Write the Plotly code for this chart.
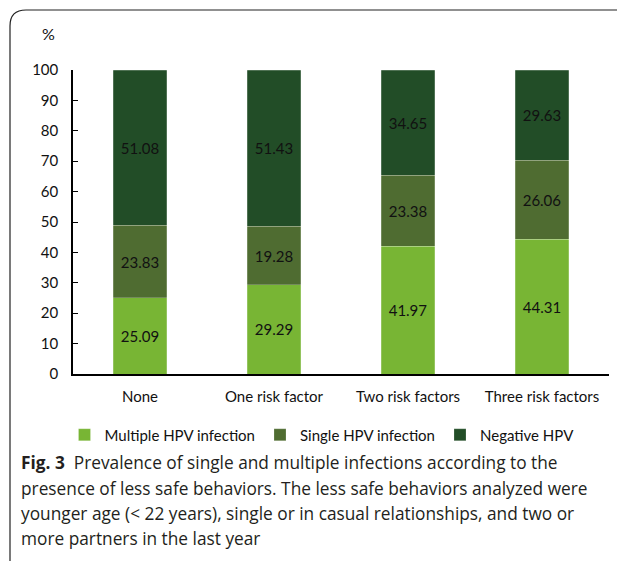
import plotly.graph_objects as go

categories = ["None", "One risk factor", "Two risk factors", "Three risk factors"]
multiple = [25.09, 29.29, 41.97, 44.31]
single = [23.83, 19.28, 23.38, 26.06]
negative = [51.08, 51.43, 34.65, 29.63]
series_names = ["Multiple HPV infection", "Single HPV infection", "Negative HPV"]
colors = ["#78B534", "#4F6C31", "#224D27"]
y_ticks = [0, 10, 20, 30, 40, 50, 60, 70, 80, 90, 100]

FONT = "Lato"
W, H = 625, 561
OFF = 8  # page body margin
# target screen positions of plot area
SX0, SX1, SY0, SY1 = 73, 609, 70, 374
L = SX0 - OFF
R = W - (SX1 - OFF)
T = SY0 - OFF
B = H - (SY1 - OFF)
pw = W - L - R
ph = H - T - B

def px(x):
    return (x - SX0) / pw

def py(y):
    return (SY1 - y) / ph

fig = go.Figure()
for name, vals, col in zip(series_names, [multiple, single, negative], colors):
    fig.add_trace(go.Bar(
        x=categories, y=vals, name=name,
        marker=dict(color=col, line=dict(color="rgba(255,255,255,0.35)", width=0.6)),
        text=[f"{v:.2f}" for v in vals], textposition="inside",
        insidetextanchor="middle",
        textfont=dict(family=FONT, size=15, color="#111111"),
    ))

fig.update_layout(
    width=W, height=H,
    margin=dict(l=L, r=R, t=T, b=B),
    barmode="stack", bargap=0.6,
    plot_bgcolor="white", paper_bgcolor="white",
    font=dict(family=FONT, size=15, color="#111111"),
    uniformtext=dict(minsize=10, mode="show"),
    showlegend=True,
    legend=dict(orientation="h", x=px(322), xanchor="center", y=py(435), yanchor="middle",
                font=dict(family=FONT, size=15, color="#111111"),
                itemwidth=30, traceorder="normal", tracegroupgap=0),
    xaxis=dict(showline=True, linecolor="black", linewidth=1.5, ticks="",
               tickfont=dict(family=FONT, size=15), ticklabelstandoff=8),
    yaxis=dict(range=[0, 100], tickvals=y_ticks, showline=True, linecolor="black",
               linewidth=1.5, ticks="inside", ticklen=5, tickcolor="black",
               showgrid=False, zeroline=False, ticklabelstandoff=10,
               tickfont=dict(family=FONT, size=15)),
)

# "%" label
fig.add_annotation(x=px(40), y=py(33), xref="paper", yref="paper", text="%",
                   xanchor="left", yanchor="middle",
                   showarrow=False, font=dict(family=FONT, size=16, color="#111111"))

# Caption lines
caption = [
    "<b>Fig. 3</b>  Prevalence of single and multiple infections according to the",
    "presence of less safe behaviors. The less safe behaviors analyzed were",
    "younger age (&lt; 22 years), single or in casual relationships, and two or",
    "more partners in the last year",
]
for i, line in enumerate(caption):
    fig.add_annotation(x=px(19), y=py(463 + 25 * i), xref="paper", yref="paper",
                       xanchor="left", yanchor="middle", text=line, showarrow=False,
                       font=dict(family="Open Sans", size=17.3, color="#231F20"))

# Border frame (rounded top-left corner)
path = (f"M {px(10)},{py(570)} L {px(10)},{py(26)} "
        f"Q {px(10)},{py(10)} {px(26)},{py(10)} L {px(640)},{py(10)}")
fig.add_shape(type="path", path=path, xref="paper", yref="paper",
              line=dict(color="#222222", width=1.2))

fig.write_html("out.html")
